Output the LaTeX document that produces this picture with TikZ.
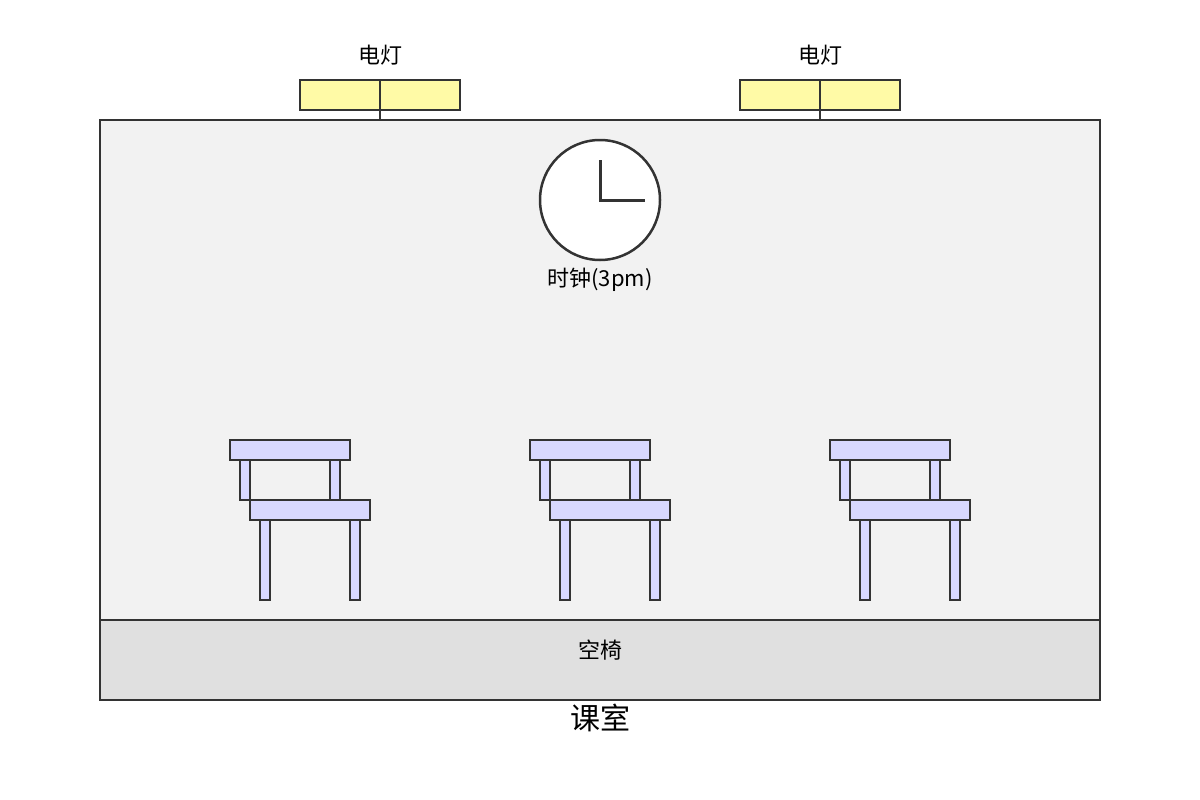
\documentclass[tikz,border=0pt]{standalone}
\usepackage{fontspec}
\newfontfamily\cjk{Noto Sans CJK SC}
\begin{document}
\begin{tikzpicture}[x=1pt,y=-1pt,
  edge/.style={draw=black!80,line width=2.5pt},
  lamp/.style={draw=black!80,line width=1.5pt,fill=yellow!35!white},
  chair/.style={draw=black!80,line width=2.5pt,fill=blue!15!white},
  lbl/.style={font=\cjk\fontsize{22}{26}\selectfont,text=black}]
\useasboundingbox (0,0) rectangle (1200,800);
\draw[edge,fill=black!5] (100,120) rectangle (1100,620);
\draw[edge,fill=black!12] (100,620) rectangle (1100,700);
\foreach \c in {380,820}{
  \draw[lamp] (\c-80,80) rectangle (\c+80,110);
  \draw[black!80,line width=1.2pt] (\c,80) -- (\c,120);
}
\node[lbl] (l1) at (380,55) {电灯};
\node[lbl] (l2) at (820,55) {电灯};
\draw[black!80,line width=2.5pt,fill=white] (600,200) circle (60);
\draw[black!80,line width=3pt] (600,160) -- (600,200) -- (645,200);
\node[lbl] (clk) at (600,280) {时钟(3pm)};
\foreach \d in {0,300,600}{
  \begin{scope}[xshift=\d]
  \draw[chair] (230,440) rectangle (350,460);
  \draw[chair] (240,460) rectangle (250,500);
  \draw[chair] (330,460) rectangle (340,500);
  \draw[chair] (250,500) rectangle (370,520);
  \draw[chair] (260,520) rectangle (270,600);
  \draw[chair] (350,520) rectangle (360,600);
  \end{scope}
}
\node[lbl] (seat) at (600,650) {空椅};
\node[font=\cjk\fontsize{30}{34}\selectfont] (room) at (600,718) {课室};
\end{tikzpicture}
\end{document}
